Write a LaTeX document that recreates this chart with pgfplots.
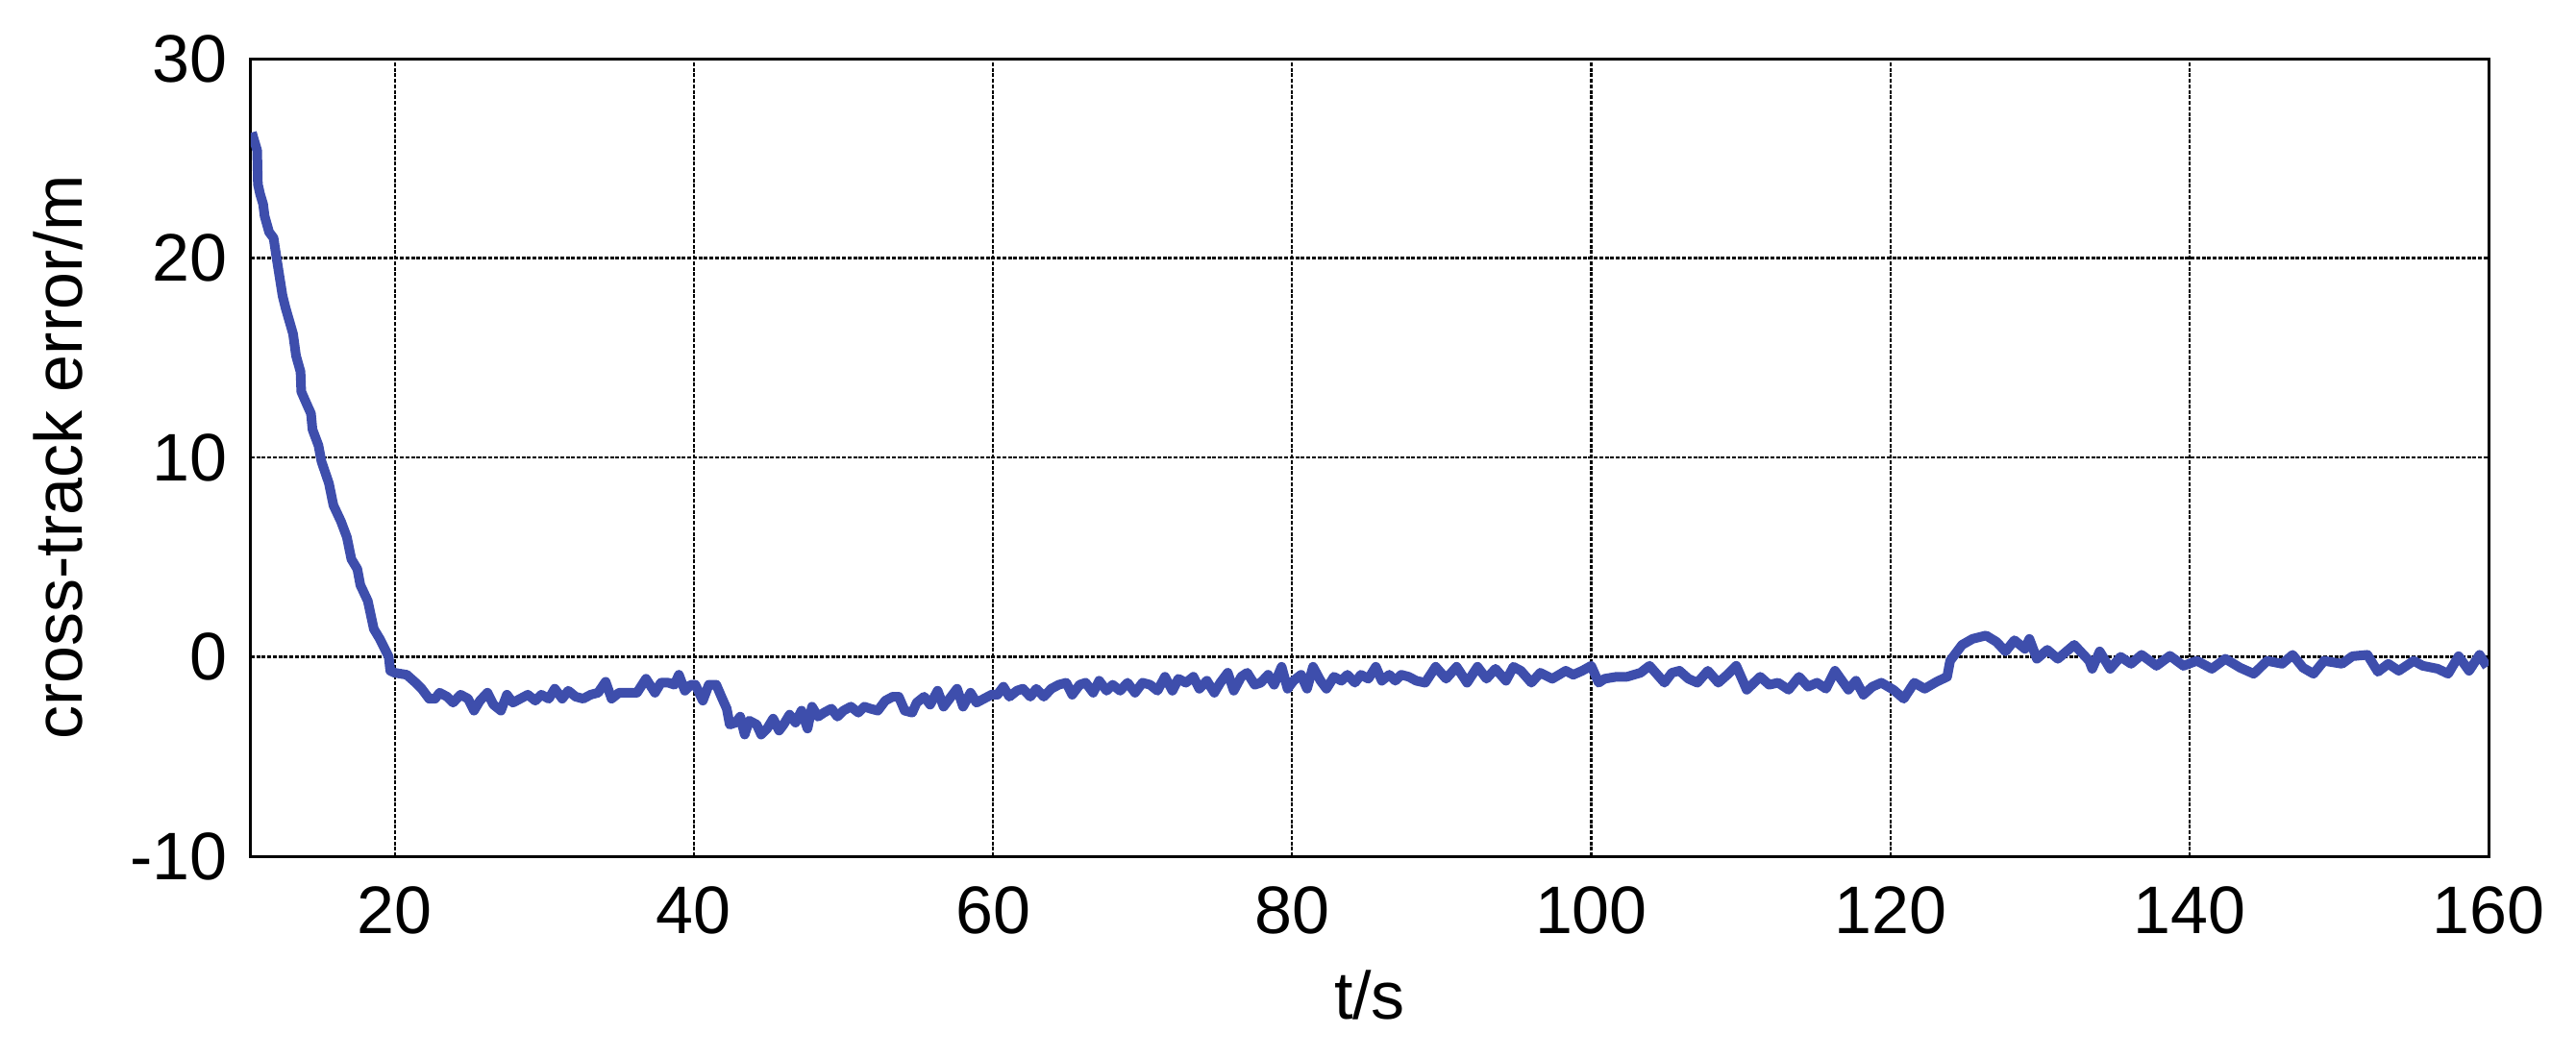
\documentclass[border=0pt]{standalone}
\usepackage{pgfplots}
\pgfplotsset{compat=1.18}
\usepackage{fontspec}
\setmainfont{Liberation Sans}
\definecolor{curve}{RGB}{62,78,172}
\pgfplotstableread{
x y
10.45 26.3
10.6 25.9
10.8 25.4
10.85 23.7
11.0 23.2
11.2 22.7
11.3 22.1
11.6 21.3
11.9 21.0
12.1 20.0
12.5 18.1
12.7 17.5
13.2 16.2
13.4 15.1
13.7 14.3
13.75 13.3
14.1 12.7
14.4 12.2
14.5 11.4
14.9 10.6
15.1 9.8
15.6 8.7
15.9 7.6
16.4 6.8
16.8 6.0
17.1 4.9
17.5 4.4
17.7 3.6
18.2 2.8
18.6 1.4
19.0 0.9
19.6 0.0
19.7 -0.7
20.0 -0.8
20.8 -0.9
21.4 -1.3
21.8 -1.6
22.3 -2.1
22.7 -2.1
23.0 -1.8
23.5 -2.0
23.9 -2.3
24.4 -1.9
24.9 -2.1
25.3 -2.7
25.7 -2.2
26.2 -1.8
26.6 -2.4
27.1 -2.7
27.5 -1.9
27.9 -2.3
28.4 -2.1
28.9 -1.9
29.4 -2.2
29.8 -1.9
30.3 -2.1
30.7 -1.6
31.2 -2.1
31.6 -1.7
32.1 -2.0
32.6 -2.1
33.1 -1.9
33.6 -1.8
34.1 -1.25
34.5 -2.1
35.0 -1.8
35.6 -1.8
36.2 -1.8
36.8 -1.1
37.4 -1.8
37.8 -1.3
38.3 -1.3
38.7 -1.4
39.0 -0.9
39.4 -1.7
39.8 -1.4
40.1 -1.4
40.6 -2.2
41.0 -1.4
41.5 -1.4
41.9 -2.1
42.2 -2.6
42.4 -3.4
42.8 -3.3
43.1 -3.0
43.4 -3.9
43.7 -3.2
44.2 -3.4
44.5 -3.9
44.9 -3.6
45.3 -3.1
45.7 -3.7
46.0 -3.4
46.4 -2.9
46.8 -3.3
47.2 -2.7
47.6 -3.6
47.9 -2.5
48.3 -3.0
48.7 -2.8
49.2 -2.6
49.6 -3.0
50.0 -2.7
50.5 -2.5
51.0 -2.8
51.4 -2.5
51.8 -2.6
52.3 -2.7
52.8 -2.2
53.3 -2.0
53.7 -2.0
54.1 -2.7
54.6 -2.8
54.9 -2.3
55.4 -2.0
55.8 -2.4
56.3 -1.7
56.7 -2.5
57.1 -2.1
57.6 -1.6
58.0 -2.5
58.5 -1.8
58.9 -2.3
59.4 -2.1
59.9 -1.9
60.3 -1.9
60.7 -1.5
61.1 -2.0
61.6 -1.7
62.0 -1.6
62.5 -2.0
62.9 -1.6
63.4 -2.0
63.9 -1.6
64.4 -1.4
64.9 -1.3
65.3 -1.9
65.8 -1.4
66.2 -1.3
66.7 -1.8
67.1 -1.2
67.6 -1.7
68.0 -1.4
68.5 -1.7
69.0 -1.3
69.5 -1.8
70.0 -1.3
70.5 -1.4
71.0 -1.7
71.5 -1.0
72.0 -1.7
72.4 -1.1
72.9 -1.3
73.4 -1.0
73.8 -1.6
74.3 -1.2
74.8 -1.8
75.2 -1.3
75.7 -0.8
76.1 -1.7
76.6 -1.0
77.0 -0.8
77.5 -1.4
77.9 -1.3
78.4 -0.9
78.8 -1.4
79.3 -0.5
79.7 -1.6
80.1 -1.2
80.6 -0.9
81.0 -1.6
81.4 -0.5
81.9 -1.2
82.3 -1.6
82.8 -1.0
83.3 -1.2
83.7 -0.9
84.2 -1.3
84.6 -0.9
85.1 -1.1
85.6 -0.5
86.0 -1.2
86.5 -0.9
86.9 -1.2
87.3 -0.9
87.8 -1.0
88.3 -1.2
88.9 -1.3
89.6 -0.5
90.3 -1.1
91.0 -0.5
91.7 -1.3
92.4 -0.5
93.0 -1.1
93.6 -0.6
94.3 -1.2
94.8 -0.5
95.3 -0.7
96.0 -1.3
96.6 -0.8
97.4 -1.1
98.3 -0.7
98.8 -0.9
99.4 -0.7
100.0 -0.45
100.5 -1.3
100.9 -1.1
101.7 -1.0
102.4 -1.0
103.3 -0.8
103.9 -0.45
104.9 -1.3
105.4 -0.8
105.9 -0.7
106.5 -1.1
107.1 -1.3
107.8 -0.7
108.5 -1.3
109.1 -0.9
109.7 -0.45
110.4 -1.65
111.3 -1.0
111.9 -1.4
112.5 -1.3
113.2 -1.65
113.9 -1.0
114.5 -1.5
115.1 -1.3
115.7 -1.6
116.3 -0.7
117.2 -1.65
117.7 -1.2
118.2 -1.9
118.8 -1.5
119.4 -1.3
120.2 -1.65
120.9 -2.1
121.6 -1.3
122.3 -1.6
123.1 -1.25
123.8 -1.0
124.0 -0.2
124.8 0.6
125.5 0.9
126.4 1.07
127.1 0.75
127.7 0.27
128.3 0.83
129.0 0.4
129.3 0.9
129.8 -0.1
130.5 0.35
131.2 -0.1
132.3 0.6
133.3 -0.2
133.5 -0.6
134.0 0.27
134.7 -0.6
135.4 0.0
136.1 -0.35
136.8 0.1
137.8 -0.45
138.7 0.05
139.6 -0.45
140.5 -0.2
141.5 -0.6
142.4 -0.1
143.4 -0.55
144.3 -0.85
145.2 -0.2
146.2 -0.35
146.9 0.1
147.6 -0.55
148.3 -0.85
149.0 -0.2
150.2 -0.35
150.9 0.03
151.9 0.1
152.6 -0.75
153.3 -0.35
154.0 -0.7
155.0 -0.2
155.6 -0.45
156.6 -0.6
157.3 -0.85
158.0 0.03
158.7 -0.7
159.4 0.1
159.9 -0.5
}\cte
\begin{document}
\fontsize{14pt}{16pt}\selectfont
\begin{tikzpicture}
\begin{axis}[
 scale only axis, width=465.6pt, height=166pt,
 xmin=10.38, xmax=160, ymin=-10, ymax=30,
 xtick={20,40,...,160}, ytick={-10,0,...,30},
 grid=major,
 major grid style={black, line width=0.45pt, dash pattern=on 0.8pt off 0.35pt},
 axis line style={black, line width=0.6pt},
 major tick length=0pt,
 /pgf/number format/assume math mode=true,
 tick label style={font=\fontsize{14pt}{16pt}\selectfont},
 xticklabel style={yshift=-1.5pt},
 label style={font=\fontsize{14pt}{16pt}\selectfont},
 xlabel={t/s}, ylabel={cross-track error/m},
 xlabel style={at={(axis description cs:0.5,-0.1735)}, anchor=center},
 ylabel style={at={(axis description cs:-0.0863,0.5)}, anchor=center},
]
\addplot[curve, line width=2pt, line join=round, no marks] table[x=x,y=y] {\cte};
\end{axis}
\pgfresetboundingbox
\path[use as bounding box] ([shift={(-52.2pt,-41.8pt)}]current axis.south west) rectangle ([shift={(18.2pt,12.2pt)}]current axis.north east);
\end{tikzpicture}
\end{document}
